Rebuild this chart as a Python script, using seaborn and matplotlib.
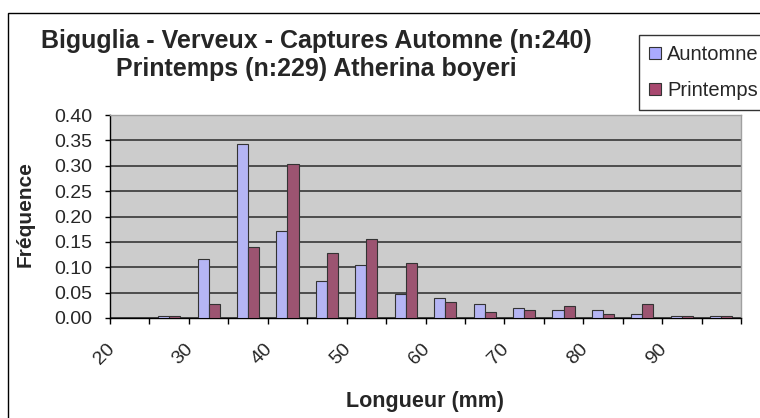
import numpy as np
import pandas as pd
import matplotlib
matplotlib.use("Agg")
import matplotlib.pyplot as plt
from matplotlib.patches import Patch, Rectangle
import seaborn as sns

# classes de longueur (mm)
longueurs = [20, 25, 30, 35, 40, 45, 50, 55, 60, 65, 70, 75, 80, 85, 90, 95]
# frequences
automne = [0.000, 0.004, 0.116, 0.342, 0.171, 0.073, 0.105, 0.047,
           0.039, 0.027, 0.020, 0.016, 0.016, 0.008, 0.004, 0.004]
printemps = [0.000, 0.004, 0.027, 0.140, 0.303, 0.128, 0.155, 0.109,
             0.031, 0.012, 0.016, 0.023, 0.008, 0.027, 0.004, 0.004]
series = ["Auntomne", "Printemps"]
couleurs = ["#aaaaff", "#a8486f"]
tick_labels = ["20", "30", "40", "50", "60", "70", "80", "90"]

df = pd.DataFrame({
    "longueur": longueurs * 2,
    "freq": automne + printemps,
    "saison": [series[0]] * len(longueurs) + [series[1]] * len(longueurs),
})

sns.set_style("white")
plt.rcParams["font.family"] = ["Liberation Sans", "DejaVu Sans"]

fig = plt.figure(figsize=(7.6, 4.18), dpi=100)
ax = fig.add_axes([110 / 760, 1 - 318 / 418, 631 / 760, 203 / 418])
ax.set_facecolor("#cccccc")

sns.barplot(df, x="longueur", y="freq", hue="saison", hue_order=series,
            palette=couleurs, width=0.56, edgecolor="#333333", linewidth=0.8,
            legend=False, ax=ax, zorder=3)

ax.set_xlim(-0.5, len(longueurs) - 0.5)
ax.set_ylim(0, 0.40)
ax.set_yticks(np.arange(0, 0.401, 0.05))
ax.set_yticklabels([f"{v:.2f}" for v in np.arange(0, 0.401, 0.05)])
ax.yaxis.grid(True, color="#2a2a2a", linewidth=1.1, zorder=1)
ax.set_axisbelow(True)

# ticks x aux limites des classes, etiquettes une classe sur deux
ax.set_xticks(np.arange(-0.5, len(longueurs), 1))
ax.set_xticklabels([])
ax.set_xticks(np.arange(0, len(longueurs), 2) - 0.3, minor=True)
ax.set_xticklabels(tick_labels, minor=True, rotation=45, ha="right", fontsize=14)
ax.tick_params(axis="x", which="major", direction="out", length=4.5, width=1,
               color="black", bottom=True)
ax.tick_params(axis="x", which="minor", length=0, pad=16)
ax.tick_params(axis="y", direction="out", length=3.6, width=1, color="black",
               left=True, labelsize=14, pad=9)

for s in ["left", "bottom"]:
    ax.spines[s].set_color("black")
    ax.spines[s].set_linewidth(1)
for s in ["top", "right"]:
    ax.spines[s].set_color("#a0a0a0")
    ax.spines[s].set_linewidth(1)

ax.set_xlabel("Longueur (mm)", fontsize=15.5, fontweight="bold")
ax.xaxis.set_label_coords(0.5, (318 - 401) / 203)
ax.xaxis.label.set_va("center")
ax.set_ylabel("Fréquence", fontsize=15, fontweight="bold")
ax.yaxis.set_label_coords((25 - 110) / 631, 0.51)
ax.yaxis.label.set_va("center")

fig.text(316 / 760, 1 - 55 / 418,
         "Biguglia - Verveux - Captures Automne (n:240)\nPrintemps (n:229) Atherina boyeri",
         ha="center", va="center", fontsize=18, fontweight="bold", linespacing=1.22)

handles = [Patch(facecolor=c, edgecolor="#333333", linewidth=0.8) for c in couleurs]
leg = fig.legend(handles, series, loc="upper left",
                 bbox_to_anchor=(639 / 760, 1 - 35 / 418), bbox_transform=fig.transFigure,
                 fontsize=14.5, frameon=True, fancybox=False, shadow=False,
                 handlelength=0.6, handleheight=0.6, handletextpad=0.3,
                 labelspacing=0.85, borderpad=0.5, borderaxespad=0)
leg.get_frame().set_edgecolor("black")
leg.get_frame().set_linewidth(1)

# cadre de la zone de graphique
fig.patches.append(Rectangle((8 / 760, -0.05), 1.2, 1 - 13 / 418 + 0.05,
                             transform=fig.transFigure, fill=False,
                             edgecolor="black", linewidth=1))

fig.savefig("out.png", dpi=100)
